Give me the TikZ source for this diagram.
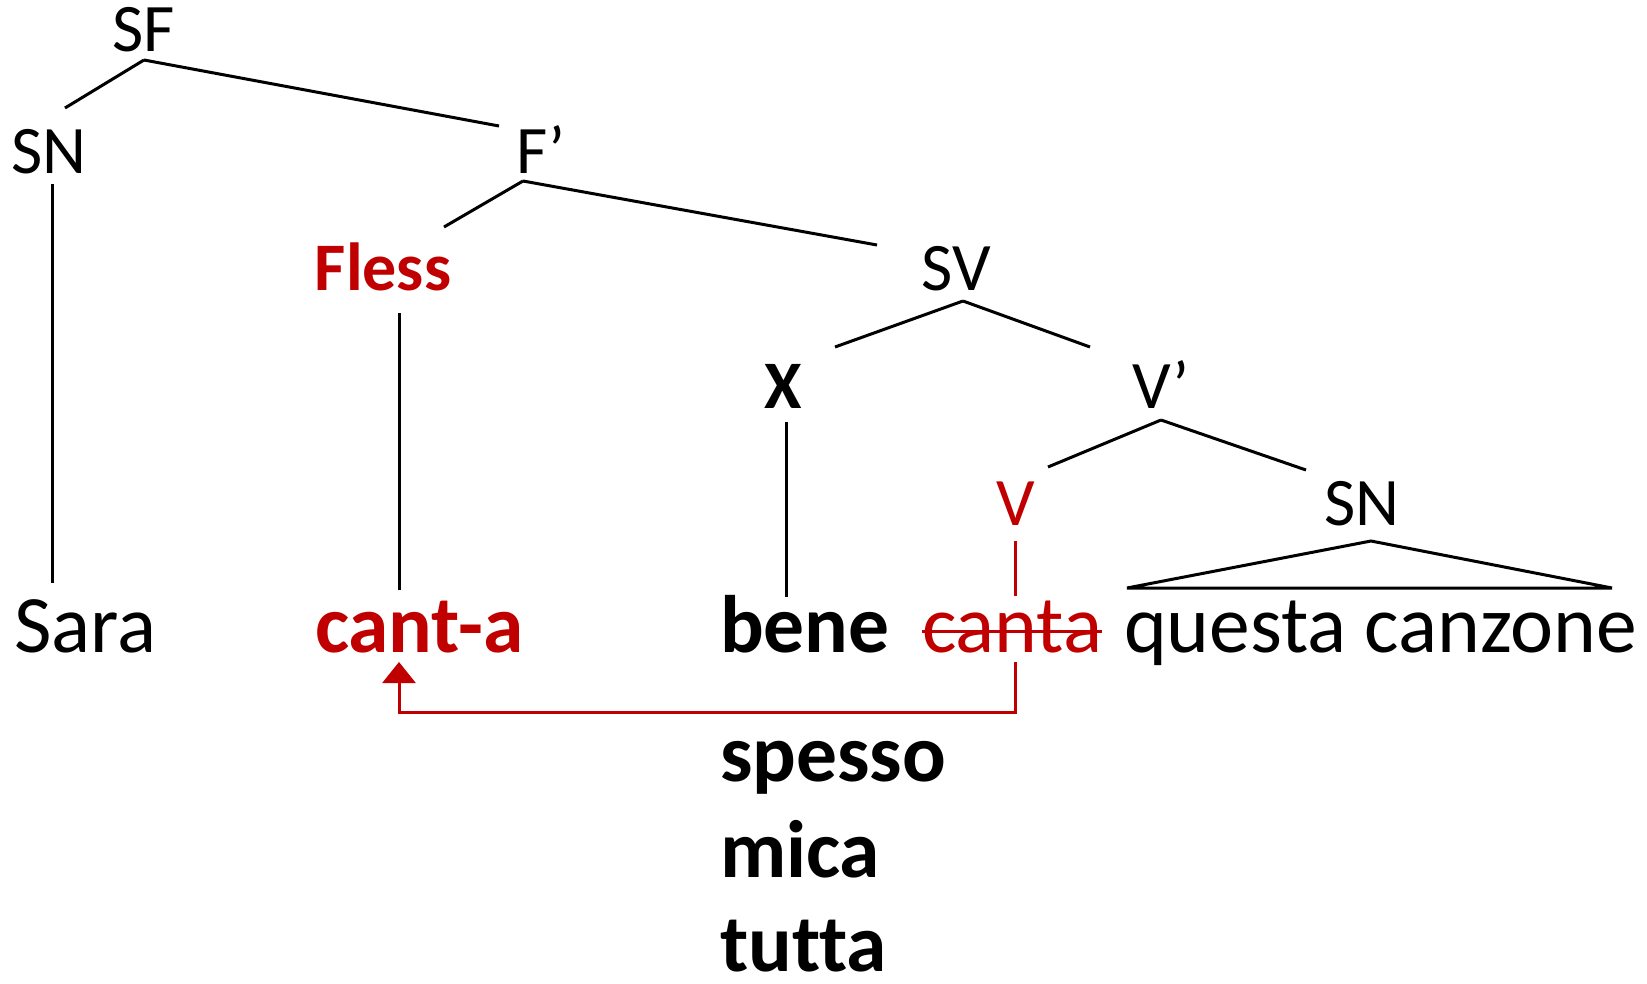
\documentclass[tikz,border=0pt]{standalone}
\usepackage{fontspec}
\setmainfont{Carlito}[Ligatures=NoCommon]
\usetikzlibrary{arrows.meta}
\definecolor{movred}{HTML}{C00000}
\begin{document}
\begin{tikzpicture}[x=1pt,y=-1pt,
  every node/.style={inner sep=0pt,outer sep=0pt},
  cat/.style={anchor=base,font=\fontsize{68}{72}\selectfont},
  catbf/.style={anchor=base,font=\fontsize{68}{72}\selectfont\bfseries},
  word/.style={anchor=base west,font=\fontsize{81.5}{90}\selectfont},
  wordbf/.style={anchor=base west,font=\fontsize{81.5}{90}\selectfont\bfseries},
  branch/.style={line width=3pt,black},
  moved/.style={line width=3pt,movred}]
\useasboundingbox (0,0) rectangle (1647,983);

% category labels
\node[cat] (SF) at (144,51) {SF};
\node[cat] (SN) at (49,173) {SN};
\node[cat] (Fp) at (541,173) {F’};
\node[catbf,text=movred] (Fless) at (383,290) {Fless};
\node[cat] (SV) at (956,290) {SV};
\node[catbf] (X) at (783,408) {X};
\node[cat] (Vp) at (1161,408) {V’};
\node[cat,text=movred] (V) at (1016,525) {V};
\node[cat] (SNo) at (1362,525) {SN};

% terminal words
\node[word] (sara) at (14,652) {Sara};
\node[wordbf,text=movred] (canta) at (315,652) {cant-a};
\node[wordbf] (bene) at (720,652) {bene};
\node[word,text=movred] (trace) at (922,652) {canta};
\node[word] (obj) at (1124,652) {questa canzone};
\node[wordbf] (spesso) at (720,781) {spesso};
\node[wordbf] (mica) at (720,877) {mica};
\node[wordbf] (tutta) at (720,971) {tutta};

% branches
\draw[branch] ([shift={(0,9)}]SF.base) -- ([shift={(16,-65)}]SN.base);
\draw[branch] ([shift={(0,9)}]SF.base) -- ([shift={(-42,-47)}]Fp.base);
\draw[branch] ([shift={(3,11)}]SN.base) -- ([shift={(38,-69)}]sara.base west);
\draw[branch] ([shift={(-18,8)}]Fp.base) -- ([shift={(61,-63)}]Fless.base);
\draw[branch] ([shift={(-18,8)}]Fp.base) -- ([shift={(-79,-45)}]SV.base);
\draw[branch] ([shift={(16,23)}]Fless.base) -- ([shift={(84,-62)}]canta.base west);
\draw[branch] ([shift={(7,11)}]SV.base) -- ([shift={(52,-61)}]X.base);
\draw[branch] ([shift={(7,11)}]SV.base) -- ([shift={(-71,-61)}]Vp.base);
\draw[branch] ([shift={(3,14)}]X.base) -- ([shift={(66,-55)}]bene.base west);
\draw[branch] ([shift={(0,12)}]Vp.base) -- ([shift={(32,-58)}]V.base);
\draw[branch] ([shift={(0,12)}]Vp.base) -- ([shift={(-56,-55)}]SNo.base);
\draw[moved] ([shift={(-1,16)}]V.base) -- ([shift={(93,-56)}]trace.base west);

% roof over the object
\draw[branch,line join=miter] ([shift={(3,-64)}]obj.base west) -- ([shift={(9,16)}]SNo.base)
  -- ([shift={(488,-64)}]obj.base west) -- cycle;

% strike-through of the trace
\draw[moved] ([yshift=21pt]trace.base west) -- ([yshift=21pt]trace.base east);

% head movement arrow
\draw[moved,-{Triangle[width=33pt,length=21pt]}]
  ([shift={(93,10)}]trace.base west) -- ++(0,50) -| ([shift={(84,10)}]canta.base west);
\end{tikzpicture}
\end{document}
